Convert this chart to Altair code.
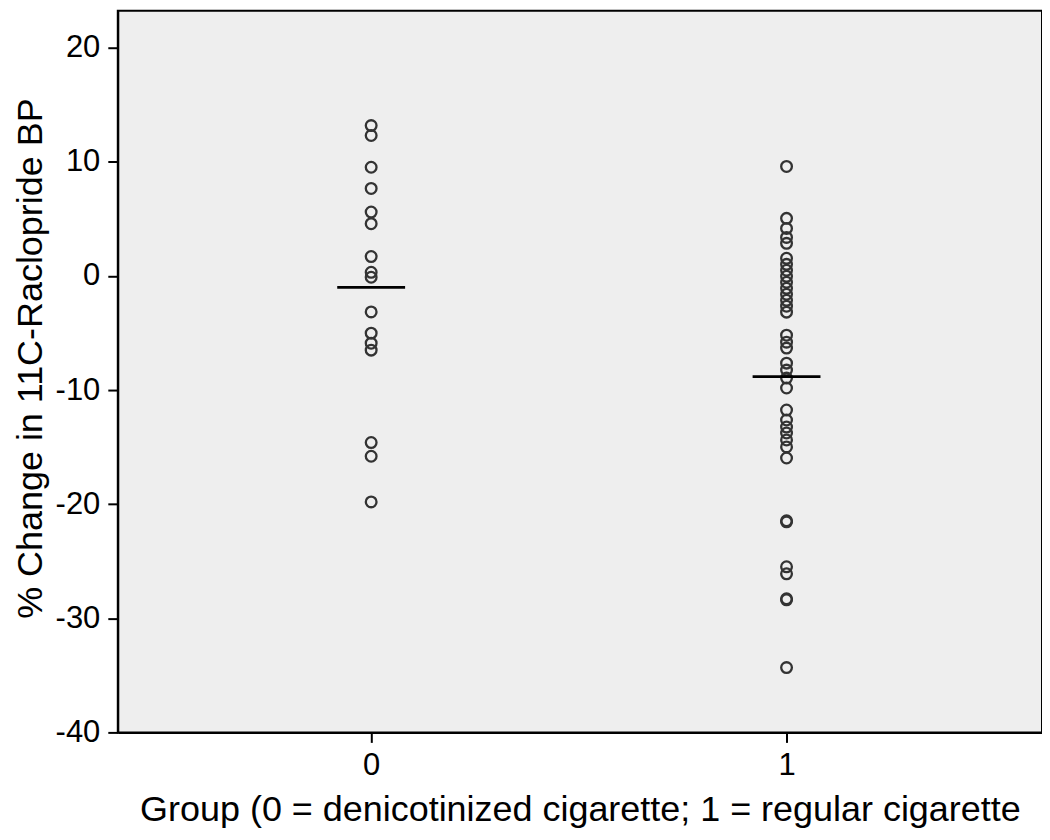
import altair as alt
import pandas as pd

group0 = [13.18, 12.31, 9.53, 7.67, 5.60, 4.58, 1.70, 0.32, -0.11, -3.15,
          -5.01, -5.89, -6.50, -14.6, -15.8, -19.8]
group1 = [9.60, 5.05, 4.17, 3.38, 2.86, 1.55, 1.02, 0.50, -0.03, -0.55,
          -1.08, -1.60, -2.13, -2.65, -3.17, -5.19, -5.80, -6.32, -7.64, -8.25,
          -8.95, -9.82, -11.75, -12.62, -13.24, -13.76, -14.37, -14.98, -15.95,
          -21.46, -21.55, -25.49, -26.10, -28.29, -28.38, -34.32]

df = pd.DataFrame({
    "group": [0] * len(group0) + [1] * len(group1),
    "change": group0 + group1,
})

FONT = "Liberation Sans"

x_enc = alt.X("group:Q",
              scale=alt.Scale(domain=[-0.61, 1.615], nice=False, zero=False),
              axis=alt.Axis(values=[0, 1], labelExpr="toString(datum.value)", grid=False,
                            title="Group (0 = denicotinized cigarette; 1 = regular cigarette",
                            tickSize=10, labelPadding=8, titlePadding=12))
y_scale = alt.Scale(domain=[-40, 23.24], nice=False, zero=False)
y_axis = alt.Axis(values=[-40, -30, -20, -10, 0, 10, 20], grid=False,
                  labelExpr="toString(datum.value)",
                  title="% Change in 11C-Raclopride BP",
                  titleFontSize=36, titleY=348,
                  tickSize=10, labelPadding=8, titlePadding=6)

points = alt.Chart(df).mark_point(
    shape="circle", filled=False, size=115, stroke="#333333", strokeWidth=2.3, opacity=1
).encode(
    x=x_enc,
    y=alt.Y("change:Q", scale=y_scale, axis=y_axis),
)

means = alt.Chart(df).mark_tick(
    orient="horizontal", size=68, thickness=2.8, color="black", opacity=1
).encode(
    x=alt.X("group:Q"),
    y=alt.Y("mean(change):Q"),
)

chart = alt.layer(points, means).properties(
    width=926, height=723,
    autosize=alt.AutoSizeParams(type="none"),
    padding={"left": 110, "top": 2, "right": 0, "bottom": 100},
    background="white",
).configure_view(
    fill="#eeeeee", stroke="black", strokeWidth=2
).configure_axis(
    labelFont=FONT, titleFont=FONT, labelFontSize=31, titleFontSize=36,
    labelColor="black", titleColor="black", titleFontWeight="normal",
    domainColor="black", tickColor="black", domainWidth=2, tickWidth=2,
)

chart.save("out.html", embed_options={"renderer": "svg", "actions": False})
